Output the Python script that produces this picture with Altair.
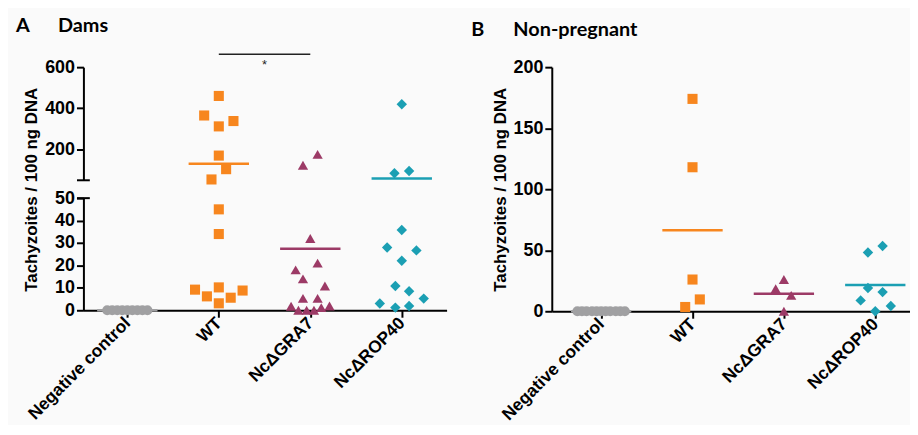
import altair as alt
import pandas as pd

groups = ["Negative control", "WT", "NcΔGRA7", "NcΔROP40"]
colors = ["#A0A0A2", "#F7861E", "#9C3A66", "#1B9FB3"]
shapes = ["circle", "square", "triangle-up", "diamond"]
sizes = [100, 110, 120, 120]

# Panel A - Dams (value, horizontal jitter in category units)
a_neg_val = [0, 0, 0, 0, 0, 0, 0, 0, 0]
a_neg_dx = [-0.22, -0.165, -0.11, -0.055, 0, 0.055, 0.11, 0.165, 0.22]
a_wt_val = [460, 365, 338, 312, 170, 104, 54, 45, 34, 10.2, 9.2, 8.8, 6.2, 5.6, 3.1]
a_wt_dx = [0, -0.16, 0.16, 0, 0, 0.08, -0.08, 0, 0, 0, -0.26, 0.26, -0.13, 0.13, 0]
a_gra_val = [176, 123, 32, 21, 18, 14, 10.8, 5.3, 5.3, 1.8, 0, 0, 0, 1.2, 1.9]
a_gra_dx = [0.08, -0.08, 0, 0.08, -0.16, -0.08, 0.16, -0.08, 0.08, -0.21, -0.13, -0.04, 0.04, 0.12, 0.21]
a_rop_val = [420, 95, 84, 35.8, 28, 26.7, 22.1, 10.8, 8.5, 3, 5.2, 1.2, 1.9]
a_rop_dx = [0, 0.08, -0.08, 0, -0.16, 0.16, 0, -0.07, 0.08, -0.24, 0.24, -0.07, 0.08]
a_means = [0, 130, 27.4, 59]

# Panel B - Non-pregnant
b_neg_val = [0, 0, 0, 0, 0, 0, 0, 0, 0, 0, 0]
b_neg_dx = [-0.26, -0.21, -0.16, -0.1, -0.05, 0, 0.05, 0.1, 0.16, 0.21, 0.26]
b_wt_val = [174, 118, 26, 9.7, 3.5]
b_wt_dx = [0, 0, 0, 0.08, -0.08]
b_gra_val = [26, 18.4, 13, 0]
b_gra_dx = [0, -0.09, 0.08, 0]
b_rop_val = [53.5, 48.1, 19, 15.7, 8.9, 4.3, 0]
b_rop_dx = [0.08, -0.08, -0.08, 0.08, -0.16, 0.17, 0]
b_means = [0, 66.3, 14.4, 21.6]

# significance annotation (WT vs NcΔGRA7, panel A)
sig_from, sig_to, sig_level, sig_text = 1, 2, 663, "*"
break_value = 50


def points_frame(vals, dxs):
    rows = []
    for i, (v, d) in enumerate(zip(vals, dxs)):
        for vv, dd in zip(v, d):
            rows.append({"group": groups[i], "idx": i, "pos": i + dd, "value": vv})
    return pd.DataFrame(rows)


def means_frame(means):
    return pd.DataFrame({"group": groups, "idx": list(range(4)), "mean": means})


dfA = points_frame([a_neg_val, a_wt_val, a_gra_val, a_rop_val],
                   [a_neg_dx, a_wt_dx, a_gra_dx, a_rop_dx])
dfB = points_frame([b_neg_val, b_wt_val, b_gra_val, b_rop_val],
                   [b_neg_dx, b_wt_dx, b_gra_dx, b_rop_dx])
mA = means_frame(a_means)
mB = means_frame(b_means)

LABEL_FONT = "Liberation Sans"
xdomA = [-0.48, 3.49]
xdomB = [-0.54, 3.38]
WA = 366
WB = 361

color_enc = alt.Color("group:N", scale=alt.Scale(domain=groups, range=colors), legend=None)
shape_enc = alt.Shape("group:N", scale=alt.Scale(domain=groups, range=shapes), legend=None)
size_enc = alt.Size("group:N", scale=alt.Scale(domain=groups, range=sizes), legend=None)

label_expr = "[" + ",".join("'" + g + "'" for g in groups) + "][datum.value]"
x_axis = alt.Axis(values=[0, 1, 2, 3], labelExpr=label_expr, labelAngle=315,
                  labelAlign="right", labelBaseline="middle", title=None,
                  labelFontSize=17.5, labelPadding=3)


def panel(df, mdf, xdom, ydom, yaxis, xaxis, w, h, extra=None):
    x = alt.X("pos:Q", scale=alt.Scale(domain=xdom), axis=xaxis)
    y = alt.Y("value:Q", scale=alt.Scale(domain=ydom), axis=yaxis)
    pts = alt.Chart(df).mark_point(filled=True, opacity=1, strokeWidth=0).encode(
        x=x, y=y, color=color_enc, shape=shape_enc, size=size_enc)
    means = alt.Chart(mdf).mark_rule(strokeWidth=2.5).transform_calculate(
        lo="datum.idx - 0.33", hi="datum.idx + 0.33"
    ).encode(
        x=alt.X("lo:Q", scale=alt.Scale(domain=xdom), axis=xaxis),
        x2="hi:Q",
        y=alt.Y("mean:Q", scale=alt.Scale(domain=ydom), axis=yaxis),
        color=color_enc)
    layers = [means, pts]
    if extra:
        layers += extra
    return alt.layer(*layers).properties(width=w, height=h)


def cap(xdom, ydom, xaxis, yaxis):
    d = pd.DataFrame({"x1": [xdom[0] - 0.07], "x2": [xdom[0] + 0.07], "y": [break_value]})
    return alt.Chart(d).mark_rule(color="black", strokeWidth=2).encode(
        x=alt.X("x1:Q", scale=alt.Scale(domain=xdom), axis=xaxis),
        x2="x2:Q",
        y=alt.Y("y:Q", scale=alt.Scale(domain=ydom), axis=yaxis))


# upper part of panel A
upper_dom = [50, 600]
upper_yaxis = alt.Axis(values=[200, 400, 600], title=None)
sig_df = pd.DataFrame({"x1": [sig_from], "x2": [sig_to], "y": [sig_level],
                       "xm": [(sig_from + sig_to) / 2], "t": [sig_text]})
sig_rule = alt.Chart(sig_df).mark_rule(color="#222222", strokeWidth=1.5).encode(
    x=alt.X("x1:Q", scale=alt.Scale(domain=xdomA), axis=None), x2="x2:Q",
    y=alt.Y("y:Q", scale=alt.Scale(domain=upper_dom), axis=upper_yaxis))
sig_star = alt.Chart(sig_df).mark_text(fontSize=13, font=LABEL_FONT, dy=11, color="#222222").encode(
    x=alt.X("xm:Q", scale=alt.Scale(domain=xdomA), axis=None),
    y=alt.Y("y:Q", scale=alt.Scale(domain=upper_dom), axis=upper_yaxis),
    text="t:N")

upperA = panel(dfA[dfA.value > break_value], mA[mA["mean"] > break_value], xdomA, upper_dom,
               upper_yaxis, None, WA, 114,
               extra=[cap(xdomA, upper_dom, None, upper_yaxis), sig_rule, sig_star]).properties(
    title=alt.TitleParams("A" + "\u00a0" * 6 + "Dams", anchor="start", font="Lato",
                          fontSize=20, fontWeight="bold", dx=-29, offset=18, color="black"))

lower_dom = [0, 50]
lower_yaxis = alt.Axis(values=[0, 10, 20, 30, 40, 50], title="Tachyzoites / 100 ng DNA",
                       titleX=-43, titleY=-9, titleAngle=270, titleAlign="center",
                       titleBaseline="bottom")
lowerA = panel(dfA[dfA.value <= break_value], mA[mA["mean"] <= break_value], xdomA, lower_dom,
               lower_yaxis, x_axis, WA, 113, extra=[cap(xdomA, lower_dom, x_axis, lower_yaxis)])

panelA = alt.vconcat(upperA, lowerA, spacing=18, bounds="flush")

b_yaxis = alt.Axis(values=[0, 50, 100, 150, 200], title="Tachyzoites / 100 ng DNA")
panelB = panel(dfB, mB, xdomB, [0, 200], b_yaxis, x_axis, WB, 246).properties(
    title=alt.TitleParams("B" + "\u00a0" * 6 + "Non-pregnant", anchor="start", font="Lato",
                          fontSize=20, fontWeight="bold", dx=-20, offset=18, color="black"))

chart = alt.hconcat(panelA, panelB, spacing=24).properties(
    padding={"left": 7, "top": 6, "right": 0, "bottom": 0},
    background="#FAFAFA",
).configure_view(strokeWidth=0).configure_axis(
    grid=False, domainColor="black", domainWidth=2, tickColor="black", tickWidth=2,
    tickSize=7, labelFont=LABEL_FONT, labelFontWeight="bold", labelFontSize=18,
    labelColor="black", labelPadding=2, titleFont=LABEL_FONT, titleFontWeight="bold",
    titleFontSize=17, titleColor="black", titlePadding=4
)

chart.save("out.html", embed_options={"renderer": "svg", "actions": False})
